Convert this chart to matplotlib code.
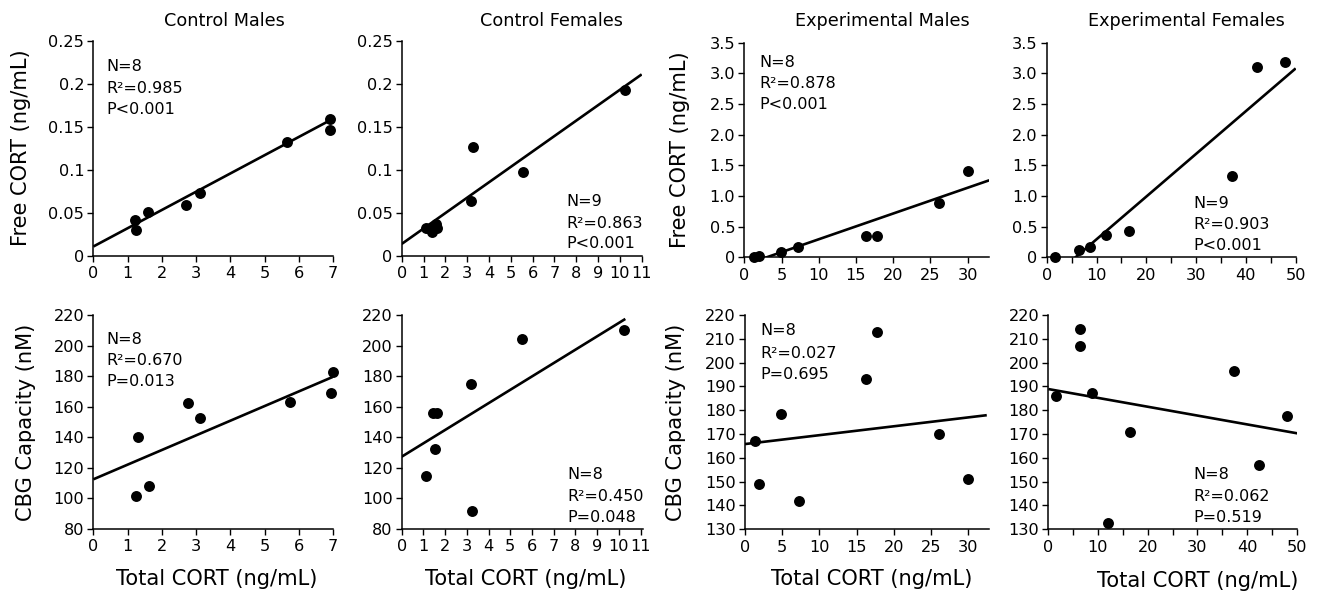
import matplotlib
matplotlib.use("Agg")
import matplotlib.pyplot as plt
import numpy as np

plt.rcParams['font.family'] = ['DejaVu Sans']

# ---------------- data ----------------
titles = ["Control Males", "Control Females", "Experimental Males", "Experimental Females"]

# Top row: Free CORT vs Total CORT
cm_total_top = [1.23, 1.26, 1.59, 2.72, 3.11, 5.67, 6.90, 6.92]
cm_free = [0.042, 0.030, 0.0515, 0.059, 0.0735, 0.132, 0.159, 0.146]
cf_total_top = [1.10, 1.30, 1.40, 1.55, 1.62, 3.18, 3.25, 5.56, 10.25]
cf_free = [0.032, 0.031, 0.028, 0.037, 0.033, 0.0635, 0.126, 0.098, 0.193]
em_total_top = [1.34, 1.97, 4.88, 7.25, 16.3, 17.8, 26.2, 30.1]
em_free = [0.0, 0.02, 0.08, 0.17, 0.35, 0.35, 0.88, 1.40]
ef_total_top = [1.67, 6.5, 8.7, 11.9, 16.6, 37.3, 42.2, 47.9]
ef_free = [0.0, 0.12, 0.16, 0.36, 0.43, 1.33, 3.10, 3.18]

# Bottom row: CBG capacity vs Total CORT
cm_total_bot = [1.25, 1.30, 1.62, 2.77, 3.13, 5.74, 7.00, 6.95]
cm_cbg = [101.6, 140, 108.1, 162.7, 152.6, 163.3, 182.5, 169]
cf_total_bot = [1.11, 1.44, 1.62, 1.55, 3.17, 3.22, 5.54, 10.23]
cf_cbg = [114.9, 156.1, 156.0, 132.6, 174.9, 92.0, 204.1, 210.2]
em_total_bot = [1.39, 1.93, 4.88, 7.25, 16.26, 17.78, 26.1, 30.0]
em_cbg = [167.1, 148.9, 178.6, 142, 193, 213, 170, 151]
ef_total_bot = [1.48, 6.44, 6.44, 8.72, 11.95, 16.5, 37.45, 42.5, 48.05]
ef_cbg = [186, 214, 207, 187.1, 132.8, 171, 196.5, 157, 177.6]

# regression lines: intercept, slope, x end
fit_intercepts_top = [0.011, 0.014, -0.126, -0.404]
fit_slopes_top = [0.0212, 0.0179, 0.042, 0.0697]
fit_xend_top = [7.0, 11.0, 32.9, 50.0]
fit_intercepts_bot = [112.5, 127.3, 165.8, 188.9]
fit_slopes_bot = [9.58, 8.75, 0.373, -0.371]
fit_xend_bot = [7.0, 10.3, 32.5, 50.1]

stats_n_top = ["N=8", "N=9", "N=8", "N=9"]
stats_r2_top = ["R²=0.985", "R²=0.863", "R²=0.878", "R²=0.903"]
stats_p_top = ["P<0.001", "P<0.001", "P<0.001", "P<0.001"]
stats_n_bot = ["N=8", "N=8", "N=8", "N=8"]
stats_r2_bot = ["R²=0.670", "R²=0.450", "R²=0.027", "R²=0.062"]
stats_p_bot = ["P=0.013", "P=0.048", "P=0.695", "P=0.519"]

top_yticks_ctrl = [0, 0.05, 0.1, 0.15, 0.2, 0.25]
top_yticklabels_ctrl = ["0", "0.05", "0.1", "0.15", "0.2", "0.25"]
top_yticks_exp = [0, 0.5, 1.0, 1.5, 2.0, 2.5, 3.0, 3.5]
top_yticklabels_exp = ["0", "0.5", "1.0", "1.5", "2.0", "2.5", "3.0", "3.5"]
bot_yticks_ctrl = [80, 100, 120, 140, 160, 180, 200, 220]
bot_yticks_exp = [130, 140, 150, 160, 170, 180, 190, 200, 210, 220]

# ---------------- layout ----------------
W, H = 1318, 595
fig = plt.figure(figsize=(W / 100, H / 100), dpi=100)

def ax_at(l, r, t, b):
    return fig.add_axes([l / W, 1 - b / H, (r - l) / W, (b - t) / H])

boxes_top = [(93.3, 333, 40.7, 256), (401.7, 641.7, 40.7, 256),
             (744.3, 989.2, 42.7, 257.3), (1046.7, 1295.7, 42.7, 257.3)]
boxes_bot = [(93.3, 333, 315, 529), (401.7, 642.7, 315, 529),
             (745, 989, 315, 529.3), (1048.3, 1296.7, 315, 529.3)]

xs_top = [cm_total_top, cf_total_top, em_total_top, ef_total_top]
ys_top = [cm_free, cf_free, em_free, ef_free]
xs_bot = [cm_total_bot, cf_total_bot, em_total_bot, ef_total_bot]
ys_bot = [cm_cbg, cf_cbg, em_cbg, ef_cbg]

xlims = [(0, 7), (0, 11), (0, 32.9), (0, 50)]
xlims_bot = [(0, 7), (0, 11.1), (0, 32.8), (0, 50)]
ylims_top = [(0, 0.25), (0, 0.25), (0, 3.5), (0, 3.5)]
ylims_bot = [(80, 220), (80, 220), (130, 220), (130, 220)]

TICK_FS = 11.6

def style(ax):
    for s in ['top', 'right']:
        ax.spines[s].set_visible(False)
    for s in ['left', 'bottom']:
        ax.spines[s].set_linewidth(1.1)
    ax.tick_params(direction='out', length=4.2, width=1.0, labelsize=TICK_FS)
    ax.tick_params(axis='x', pad=3.2)
    ax.tick_params(axis='y', pad=2.3)

def set_xticks(ax, i, xl):
    if i < 2:
        ax.set_xticks(np.arange(0, int(xl[1]) + 1, 1))
    elif i == 2:
        ax.set_xticks(np.arange(0, 31, 5))
    else:
        ax.set_xticks(np.arange(0, 51, 5))
        ax.set_xticklabels([str(v) if v % 10 == 0 else "" for v in range(0, 51, 5)])

def draw(ax, x, y, b0, b1, xend):
    ax.scatter(x, y, s=62, color='black', zorder=3, clip_on=False, linewidths=0)
    xx = np.array([0.0, xend])
    ax.plot(xx, b0 + b1 * xx, color='black', lw=1.9, zorder=2, solid_capstyle='butt')

for i in range(4):
    ax = ax_at(*boxes_top[i])
    style(ax)
    draw(ax, xs_top[i], ys_top[i], fit_intercepts_top[i], fit_slopes_top[i], fit_xend_top[i])
    ax.set_xlim(*xlims[i])
    ax.set_ylim(*ylims_top[i])
    set_xticks(ax, i, xlims[i])
    if i < 2:
        ax.set_yticks(top_yticks_ctrl)
        ax.set_yticklabels(top_yticklabels_ctrl)
    else:
        ax.set_yticks(top_yticks_exp)
        ax.set_yticklabels(top_yticklabels_exp)

    ax = ax_at(*boxes_bot[i])
    style(ax)
    draw(ax, xs_bot[i], ys_bot[i], fit_intercepts_bot[i], fit_slopes_bot[i], fit_xend_bot[i])
    ax.set_xlim(*xlims_bot[i])
    ax.set_ylim(*ylims_bot[i])
    set_xticks(ax, i, xlims[i])
    ax.set_yticks(bot_yticks_ctrl if i < 2 else bot_yticks_exp)

def ftext(x, y, s, **kw):
    fig.text(x / W, 1 - y / H, s, **kw)

# titles
for tx, t in zip([224, 551, 882.7, 1186.7], titles):
    ftext(tx, 20.8, t, ha='center', va='center', fontsize=12.7)

# y labels
LAB_FS = 15.1
ftext(21.5, 148, "Free CORT (ng/mL)", rotation=90, ha='center', va='center', fontsize=LAB_FS)
ftext(679.5, 150, "Free CORT (ng/mL)", rotation=90, ha='center', va='center', fontsize=LAB_FS)
ftext(26, 422, "CBG Capacity (nM)", rotation=90, ha='center', va='center', fontsize=LAB_FS)
ftext(676.5, 422, "CBG Capacity (nM)", rotation=90, ha='center', va='center', fontsize=LAB_FS)

# x labels
for tx, ty in zip([217, 526, 871.7, 1198], [579, 579, 579, 581]):
    ftext(tx, ty, "Total CORT (ng/mL)", ha='center', va='center', fontsize=LAB_FS)

# stats annotations (left x, centre of line 1, 2, 3)
ann_top = [(106.7, [65, 87.3, 108.3]), (566.7, [200, 221.7, 242.3]),
           (759.3, [61, 82.7, 103.3]), (1193.3, [201.7, 223.3, 244.3])]
ann_bot = [(106.7, [338.3, 359.3, 380]), (567.3, [473.3, 495, 516.7]),
           (760, [329.3, 351.7, 373.3]), (1193.3, [473.3, 495, 516.7])]
ANN_FS = 11.5
for i in range(4):
    lx, ly = ann_top[i]
    for yy, s in zip(ly, [stats_n_top[i], stats_r2_top[i], stats_p_top[i]]):
        ftext(lx, yy + 5.8, s, ha='left', va='baseline', fontsize=ANN_FS)
    lx, ly = ann_bot[i]
    for yy, s in zip(ly, [stats_n_bot[i], stats_r2_bot[i], stats_p_bot[i]]):
        ftext(lx, yy + 5.8, s, ha='left', va='baseline', fontsize=ANN_FS)

fig.savefig("out.png", dpi=100)
